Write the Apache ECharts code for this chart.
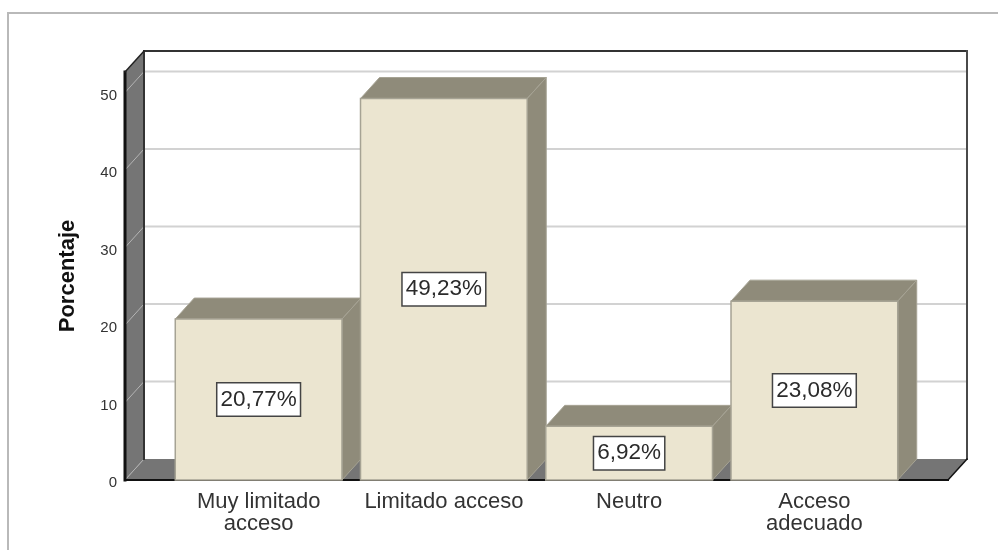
<!DOCTYPE html>
<html>
<head>
<meta charset="utf-8">
<style>html,body{margin:0;padding:0;background:#fff}#c{width:998px;height:550px}</style>
<script src="https://cdn.jsdelivr.net/npm/echarts@6/dist/echarts.min.js"></script>
</head>
<body>
<div id="c"></div>
<script>
var categories = ['Muy limitado\nacceso', 'Limitado acceso', 'Neutro', 'Acceso\nadecuado'];
var values = [20.77, 49.23, 6.92, 23.08];
var gridTicks = [0, 10, 20, 30, 40, 50];
var axisMax = 52.65;

var DX = 19, DY = 21, WALL = 41;
var FONT = '"Liberation Sans", Arial, sans-serif';

function wallsItem(params, api) {
  var c = params.coordSys;
  var l = c.x - WALL, r = c.x + c.width + WALL, t = c.y, b = c.y + c.height;
  var wallFill = '#757575';
  return { type: 'group', children: [
    { type: 'polygon', shape: { points: [[l, t], [l + DX, t - DY], [l + DX, b - DY], [l, b]] },
      style: { fill: wallFill, stroke: null } },
    { type: 'polygon', shape: { points: [[l, b], [l + DX, b - DY], [r + DX, b - DY], [r, b]] },
      style: { fill: wallFill, stroke: null } }
  ] };
}
function gridItem(params, api) {
  var c = params.coordSys;
  var l = c.x - WALL, r = c.x + c.width + WALL;
  var y = api.coord([0, api.value(1)])[1];
  var kids = [
    { type: 'line', shape: { x1: l, y1: y, x2: l + DX, y2: y - DY },
      style: { stroke: '#b4b4b4', lineWidth: 1 } }
  ];
  if (api.value(1) > 0) {
    kids.push({ type: 'line', shape: { x1: l + DX, y1: y - DY, x2: r + DX, y2: y - DY },
      style: { stroke: '#d2d2d2', lineWidth: 2 } });
  }
  return { type: 'group', children: kids };
}
function frameItem(params, api) {
  var c = params.coordSys;
  var l = c.x - WALL, r = c.x + c.width + WALL, t = c.y, b = c.y + c.height;
  function ln(x1, y1, x2, y2, col, w) {
    return { type: 'line', shape: { x1: x1, y1: y1, x2: x2, y2: y2 }, style: { stroke: col, lineWidth: w, lineCap: 'square' } };
  }
  return { type: 'group', children: [
    ln(l + DX, t - DY, r + DX, t - DY, '#333333', 2),
    ln(r + DX, t - DY, r + DX, b - DY, '#4a4a4a', 2),
    ln(l + DX, t - DY, l + DX, b - DY, '#333333', 2),
    ln(l, t, l, b, '#111111', 3),
    ln(l, t, l + DX, t - DY, '#222222', 1.5),
    ln(l, b, r, b, '#111111', 2),
    ln(r, b, r + DX, b - DY, '#111111', 1.5)
  ] };
}
function barItem(params, api) {
  var cat = api.value(0), v = api.value(1);
  var p = api.coord([cat, v]), p0 = api.coord([cat, 0]);
  var w = api.size([1, 0])[0] * 0.9;
  var x0 = p[0] - w / 2, x1 = p[0] + w / 2, yT = p[1], yB = p0[1];
  var side = '#8f8b7a', edge = '#a6a394';
  var txt = v.toFixed(2).replace('.', ',') + '%';
  return { type: 'group', children: [
    { type: 'polygon', shape: { points: [[x0, yT], [x0 + DX, yT - DY], [x1 + DX, yT - DY], [x1, yT]] },
      style: { fill: side, stroke: edge, lineWidth: 1 } },
    { type: 'polygon', shape: { points: [[x1, yT], [x1 + DX, yT - DY], [x1 + DX, yB - DY], [x1, yB]] },
      style: { fill: side, stroke: edge, lineWidth: 1 } },
    { type: 'rect', shape: { x: x0, y: yT, width: w, height: yB - yT },
      style: { fill: '#ebe5d0', stroke: edge, lineWidth: 1.5 } },
    { type: 'text', x: p[0], y: (yT + yB) / 2, style: {
        text: txt, align: 'center', verticalAlign: 'middle',
        fontFamily: FONT, fontSize: 22.5, fill: '#2b2b2b',
        backgroundColor: '#ffffff', borderColor: '#444444', borderWidth: 1.5,
        padding: [5, 3, 4, 3]
      } }
  ] };
}

var chart = echarts.init(document.getElementById('c'), null, { renderer: 'canvas' });
chart.setOption({
  animation: false,
  backgroundColor: '#ffffff',
  grid: { left: 166, right: 91, top: 72, bottom: 70 },
  xAxis: {
    type: 'category', data: categories,
    axisLine: { show: false }, axisTick: { show: false }, splitLine: { show: false },
    axisLabel: { margin: 11, interval: 0, fontFamily: FONT, fontSize: 22, lineHeight: 22, color: '#333333' }
  },
  yAxis: {
    type: 'value', min: 0, max: axisMax, interval: 10,
    name: 'Porcentaje', nameLocation: 'middle', nameGap: 87,
    nameTextStyle: { fontFamily: FONT, fontSize: 22, fontWeight: 'bold', color: '#111111' },
    axisLine: { show: false }, axisTick: { show: false }, splitLine: { show: false },
    axisLabel: {
      margin: 49, showMaxLabel: false, formatter: '{t|{value}}',
      rich: { t: { padding: [6, 0, 0, 0], fontFamily: FONT, fontSize: 15, color: '#333333' } }
    }
  },
  graphic: [{
    type: 'polyline', silent: true,
    shape: { points: [[8, 550], [8, 13], [998, 13]] },
    style: { fill: null, stroke: '#b9b9b9', lineWidth: 2 }
  }],
  series: [
    { type: 'custom', name: 'walls', silent: true, renderItem: wallsItem, data: [[0, 0]] },
    { type: 'custom', name: 'grid', silent: true, renderItem: gridItem,
      data: gridTicks.map(function (t) { return [0, t]; }) },
    { type: 'custom', name: 'frame', silent: true, renderItem: frameItem, data: [[0, 0]] },
    { type: 'custom', name: 'Porcentaje', silent: true, renderItem: barItem,
      data: values.map(function (v, i) { return [i, v]; }) }
  ]
});
</script>
</body>
</html>
